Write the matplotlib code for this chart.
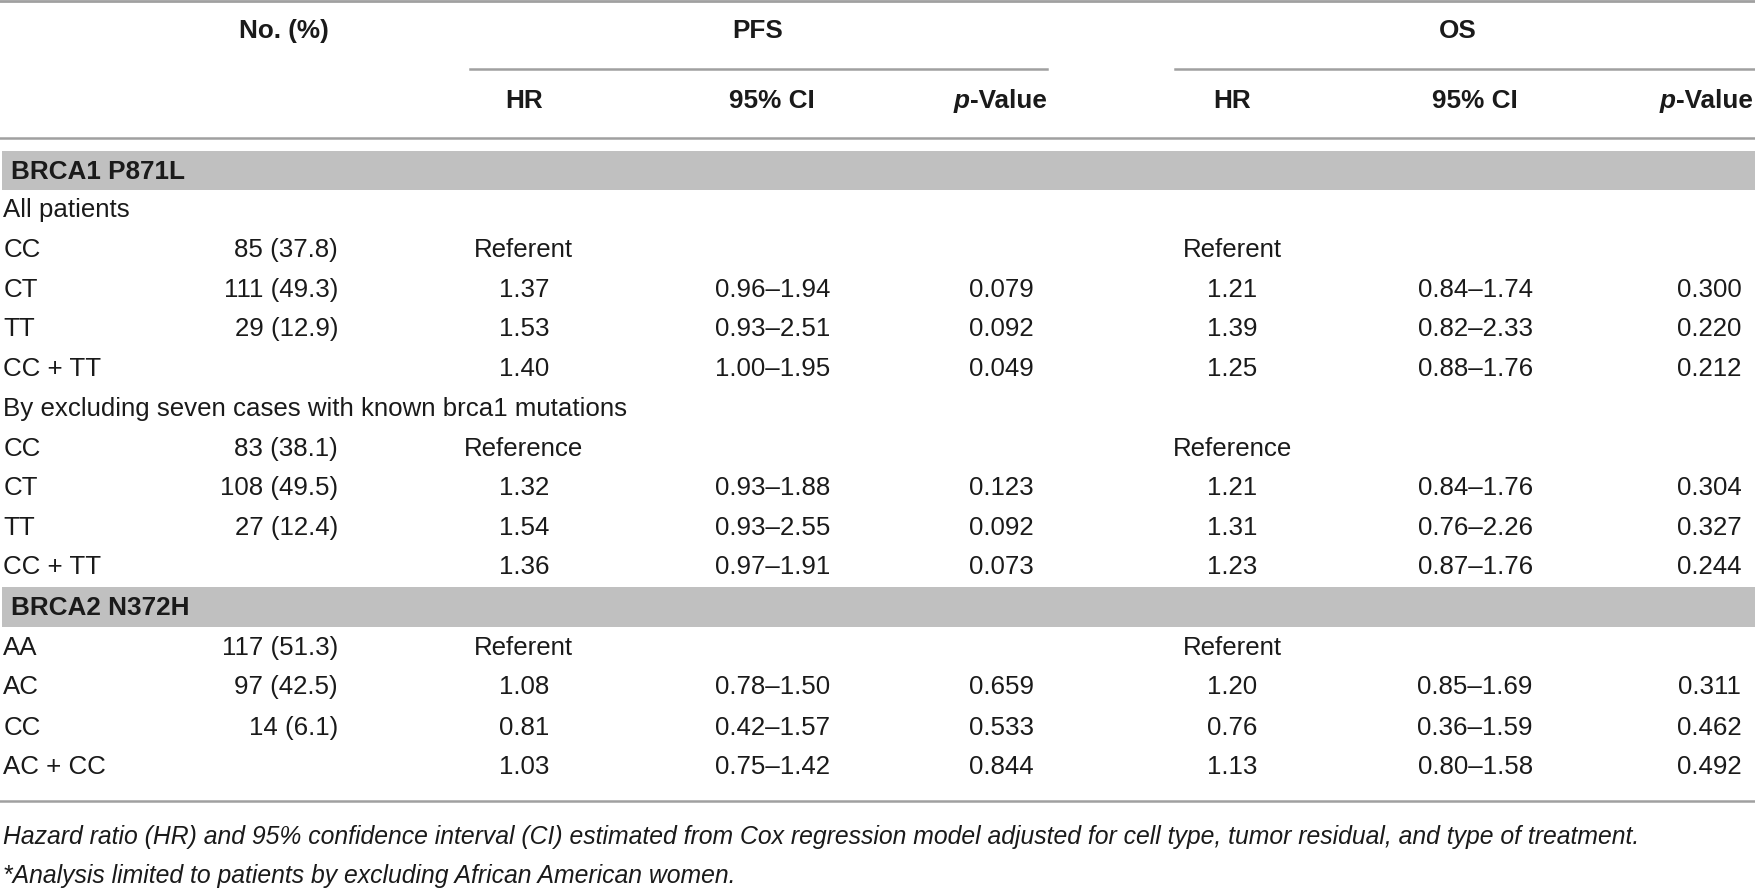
import matplotlib
matplotlib.use("Agg")
import matplotlib.pyplot as plt
from matplotlib.patches import Rectangle

# ---- data ----
row_labels = ["All patients", "CC", "CT", "TT", "CC + TT",
              "By excluding seven cases with known brca1 mutations",
              "CC", "CT", "TT", "CC + TT",
              "AA", "AC", "CC", "AC + CC"]
n_pct = ["", "85 (37.8)", "111 (49.3)", "29 (12.9)", "", "", "83 (38.1)", "108 (49.5)", "27 (12.4)", "",
         "117 (51.3)", "97 (42.5)", "14 (6.1)", ""]
pfs_hr = ["", "Referent", "1.37", "1.53", "1.40", "", "Reference", "1.32", "1.54", "1.36",
          "Referent", "1.08", "0.81", "1.03"]
pfs_ci = ["", "", "0.96\u20131.94", "0.93\u20132.51", "1.00\u20131.95", "", "", "0.93\u20131.88", "0.93\u20132.55",
          "0.97\u20131.91", "", "0.78\u20131.50", "0.42\u20131.57", "0.75\u20131.42"]
pfs_p = ["", "", "0.079", "0.092", "0.049", "", "", "0.123", "0.092", "0.073", "", "0.659", "0.533", "0.844"]
os_hr = ["", "Referent", "1.21", "1.39", "1.25", "", "Reference", "1.21", "1.31", "1.23",
         "Referent", "1.20", "0.76", "1.13"]
os_ci = ["", "", "0.84\u20131.74", "0.82\u20132.33", "0.88\u20131.76", "", "", "0.84\u20131.76", "0.76\u20132.26",
         "0.87\u20131.76", "", "0.85\u20131.69", "0.36\u20131.59", "0.80\u20131.58"]
os_p = ["", "", "0.300", "0.220", "0.212", "", "", "0.304", "0.327", "0.244", "", "0.311", "0.462", "0.492"]
section_titles = ["BRCA1 P871L", "BRCA2 N372H"]
footnotes = ["Hazard ratio (HR) and 95% confidence interval (CI) estimated from Cox regression model adjusted for cell type, tumor residual, and type of treatment.",
             "*Analysis limited to patients by excluding African American women."]

# ---- layout (coordinates in a 1568-wide frame) ----
W, H = 1755, 888
S = W / 1568.0
FW, FH = 1568.0, H / S
fig = plt.figure(figsize=(W / 100, H / 100), dpi=100)
ax = fig.add_axes([0, 0, 1, 1])
ax.set_xlim(0, FW)
ax.set_ylim(FH, 0)
ax.axis("off")

FONT = ["Liberation Sans", "DejaVu Sans"]
NARROW = ["Liberation Sans Narrow", "Liberation Sans", "DejaVu Sans"]
fs_body = 18.6
fs_head = 18.8
fs_foot = 17.8
txt = "#1a1a1a"
linec = "#a0a0a0"

# rules
ax.plot([0, FW], [1.2, 1.2], color=linec, lw=2)
ax.plot([420, 935], [62, 62], color=linec, lw=1.8)
ax.plot([1050, FW], [62, 62], color=linec, lw=1.8)
ax.plot([0, FW], [123, 123], color=linec, lw=1.8)
ax.plot([0, FW], [716, 716], color=linec, lw=1.8)

# headers
hkw = dict(fontsize=fs_head, fontweight="bold", family=NARROW, color=txt, va="center")
ax.text(254, 28, "No. (%)", ha="center", **hkw)
ax.text(677, 28, "PFS", ha="center", **hkw)
ax.text(1302, 28, "OS", ha="center", **hkw)
col_x = [468, 690, 895, 1101, 1318, 1527]
for x, h in zip(col_x, ["HR", "95% CI", None, "HR", "95% CI", None]):
    if h:
        ax.text(x, 90, h, ha="center", **hkw)
fig.canvas.draw()
renderer = fig.canvas.get_renderer()
inv = ax.transData.inverted()
for xr in (935, 1566):
    t = ax.text(xr, 90, "-Value", ha="right", **hkw)
    bb = t.get_window_extent(renderer)
    xl = inv.transform((bb.x0, bb.y0))[0]
    ax.text(xl, 90, "p", ha="right", style="italic", **hkw)

# section bands
row_y = [188, 223, 259, 294, 330, 365, 401, 436, 472, 507, 579, 614, 650, 685]
band_y = [(134.5, 170), (524.5, 560)]
for (y0, y1), t in zip(band_y, section_titles):
    ax.add_patch(Rectangle((2, y0), FW - 2, y1 - y0, facecolor="#c0c0c0", edgecolor="none"))
    ax.text(10, (y0 + y1) / 2 + 1, t, ha="left", **hkw)

bkw = dict(fontsize=fs_body, family=FONT, color=txt, va="center")
for i, y in enumerate(row_y):
    ax.text(3, y, row_labels[i], ha="left", **bkw)
    if n_pct[i]:
        ax.text(302, y, n_pct[i], ha="right", **bkw)
    for x, col in zip(col_x, [pfs_hr, pfs_ci, pfs_p, os_hr, os_ci, os_p]):
        if col[i]:
            ax.text(x, y, col[i], ha="center", **bkw)

fkw = dict(fontsize=fs_foot, family=NARROW, style="italic", color=txt, va="center", ha="left")
ax.text(3, 748, footnotes[0], **fkw)
ax.text(3, 783, footnotes[1], **fkw)

fig.savefig("out.png", dpi=100)
